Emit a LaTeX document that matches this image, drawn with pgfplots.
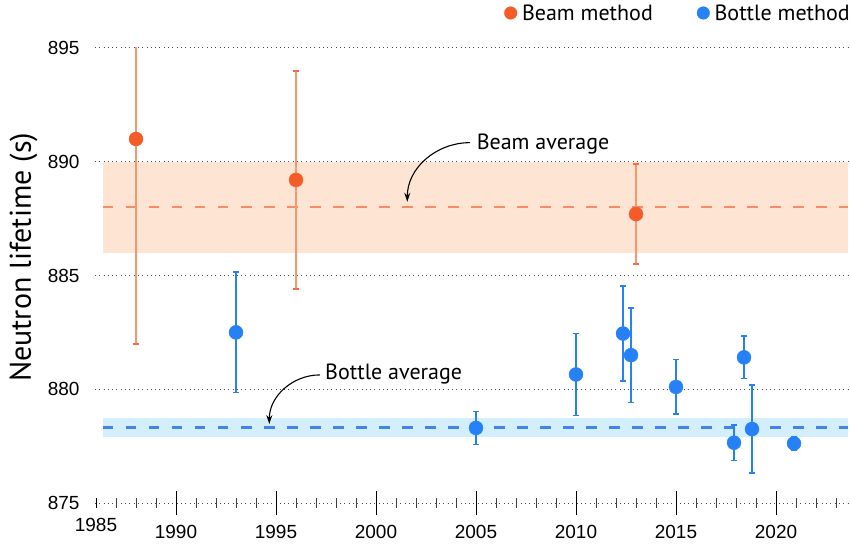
\documentclass[border=0pt]{standalone}
\usepackage{fontspec}
\setmainfont{PT Sans}
\newfontfamily\tickfont{Liberation Sans}
\usepackage{pgfplots}
\pgfplotsset{compat=1.18}
\usetikzlibrary{arrows.meta}
\definecolor{beam}{RGB}{244,91,40}
\definecolor{beambar}{RGB}{248,150,112}
\definecolor{beamcap}{RGB}{242,110,70}
\definecolor{beamdash}{RGB}{247,140,105}
\definecolor{beamband}{RGB}{253,228,211}
\definecolor{bottle}{RGB}{38,128,246}
\definecolor{bottledash}{RGB}{70,130,235}
\definecolor{bottleband}{RGB}{212,239,252}
\begin{document}
\begin{tikzpicture}
\begin{axis}[
  at={(0,0)}, anchor=south west,
  scale only axis, width=753bp, height=455bp,
  xmin=1985.95, xmax=2023.6, ymin=875, ymax=895,
  axis x line=bottom, axis y line=left,
  x axis line style={draw=none}, y axis line style={draw=none},
  xtick={1990,1995,...,2020},
  minor xtick={1987,...,2023},
  extra x ticks={1986}, extra x tick labels={1985},
  extra x tick style={major tick length=10bp, grid=none},
  ytick={875,880,...,895},
  ytick style={draw=none},
  xtick style={black, line width=0.9bp},
  minor x tick style={black!75, line width=0.7bp},
  ymajorgrids, grid style={black!70, line width=1bp, dash pattern=on 1bp off 3.3bp},
  tick align=center,
  major tick length=24bp, minor tick length=10bp,
  ticklabel style={font=\tickfont\fontsize{19bp}{22bp}\selectfont},
  xticklabel style={yshift=-7bp},
  /pgf/number format/assume math mode=true,
  /pgf/number format/1000 sep={},
  ylabel={Neutron lifetime (s)},
  ylabel style={font=\fontsize{30bp}{34bp}\selectfont, at={(axis description cs:-0.095,0.54)}, anchor=center, rotate=0},
  legend columns=2,
  legend style={at={(axis description cs:1,1)}, anchor=east, yshift=35bp, xshift=4bp,
    draw=none, fill=none, inner sep=0pt,
    font=\fontsize{22bp}{26bp}\selectfont,
    /tikz/every even column/.append style={column sep=42bp}},
  legend image code/.code={\fill[#1] (0bp,0bp) circle (6.3bp); \path[draw=none, fill=none] (-6.3bp,0bp) rectangle (9.3bp,0bp);},
]
\addlegendimage{color=beam}
\addlegendentry{Beam method}
\addlegendimage{color=bottle}
\addlegendentry{Bottle method}

% bands
\addplot[draw=none, fill=beamband, forget plot] coordinates {(1986.35,886) (2023.6,886) (2023.6,890) (1986.35,890)} -- cycle;
\addplot[draw=none, fill=bottleband, forget plot] coordinates {(1986.35,877.88) (2023.6,877.88) (2023.6,878.75) (1986.35,878.75)} -- cycle;
% averages
\addplot[color=beamdash, line width=2.4bp, dash pattern=on 10.5bp off 12.5bp, forget plot] coordinates {(1986.35,888) (2023.6,888)};
\addplot[color=bottledash, line width=2.4bp, dash pattern=on 10.5bp off 12.5bp, forget plot] coordinates {(1986.35,878.32) (2023.6,878.32)};

% beam data
\addplot[only marks, mark=*, mark size=7bp, color=beam, forget plot,
  error bars/.cd, y dir=both, y explicit,
  error bar style={beambar, line width=1.6bp},
  error mark options={beamcap, rotate=90, mark size=2.8bp, line width=1.6bp}]
  coordinates {
  (1988,891.0) +- (0,9.0)
  (1996,889.2) +- (0,4.8)
  (2013,887.7) +- (0,2.2)
  };
% bottle data
\addplot[only marks, mark=*, mark size=7bp, color=bottle, forget plot,
  error bars/.cd, y dir=both, y explicit,
  error bar style={bottle, line width=1.8bp},
  error mark options={bottle, rotate=90, mark size=2.8bp, line width=1.6bp}]
  coordinates {
  (1993,882.5) +- (0,2.65)
  (2005,878.3) +- (0,0.72)
  (2010,880.65) +- (0,1.8)
  (2012.35,882.45) +- (0,2.1)
  (2012.75,881.5) +- (0,2.08)
  (2015,880.1) +- (0,1.2)
  (2017.9,877.65) +- (0,0.78)
  (2018.4,881.4) +- (0,0.93)
  (2018.8,878.25) +- (0,1.93)
  (2020.9,877.62) +- (0,0.3)
  };

\draw[black, line width=1bp] (axis cs:1985.95,875) -- (axis cs:1987,875);

\node[anchor=base west, inner sep=0pt, font=\fontsize{22bp}{26bp}\selectfont] at (axis cs:2005.03,890.55) {Beam average};
\draw[line width=1.1bp, -{Stealth[length=9bp,width=6bp]}] (axis cs:2004.7,890.84) to[out=180,in=90] (axis cs:2001.565,888.24);
\node[anchor=base west, inner sep=0pt, font=\fontsize{22bp}{26bp}\selectfont] at (axis cs:1997.45,880.41) {Bottle average};
\draw[line width=1.1bp, -{Stealth[length=9bp,width=6bp]}] (axis cs:1997.2,880.63) to[out=180,in=90] (axis cs:1994.665,878.47);
\end{axis}
\pgfresetboundingbox
\path (-95bp,-45bp) rectangle (755bp,503bp);
\end{tikzpicture}
\end{document}
